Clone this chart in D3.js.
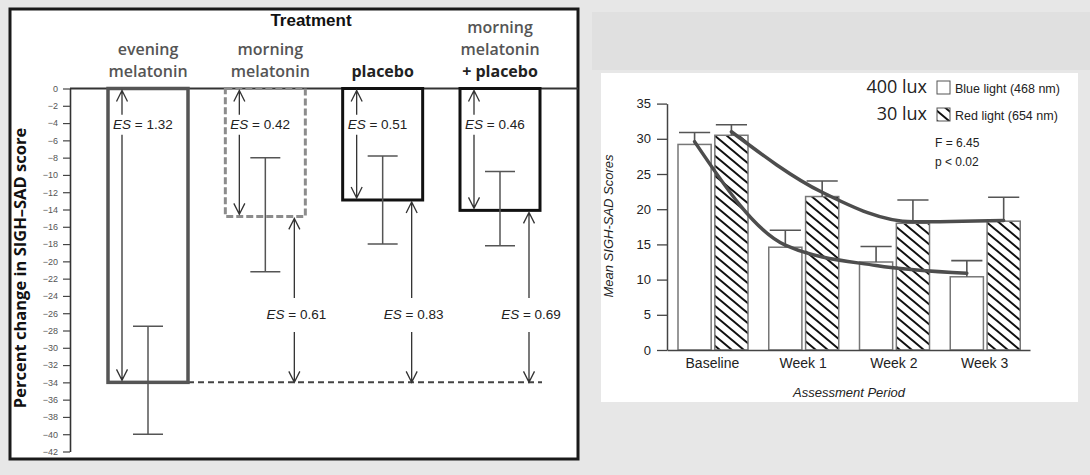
<!DOCTYPE html>
<html>
<head>
<meta charset="utf-8">
<script src="https://cdn.jsdelivr.net/npm/d3@7"></script>
<style>
	html, body { margin: 0; padding: 0; background: #e7e7e7; }
	svg { display: block; }
</style>
</head>
<body>
<svg id="chart" width="1090" height="475"></svg>
<script>
// left panel: percent change in SIGH-SAD score per treatment
var treatments = ['evening melatonin', 'morning melatonin', 'placebo', 'morning melatonin + placebo'];
var treatmentLines = [['evening', 'melatonin'], ['morning', 'melatonin'], ['placebo'], ['morning', 'melatonin', '+ placebo']];
var meanChange = [-34, -14.8, -12.9, -14.1];
var errTop = [-27.5, -8, -7.8, -9.6];
var errBottom = [-40, -21.2, -18, -18.2];
var esWithin = ['1.32', '0.42', '0.51', '0.46'];
var esVsEvening = [null, '0.61', '0.83', '0.69'];
var referenceLevel = -34;
var leftTicks = [0, -2, -4, -6, -8, -10, -12, -14, -16, -18, -20, -22, -24, -26, -28, -30, -32, -34, -36, -38, -40, -42];

// right panel: mean SIGH-SAD scores by assessment period
var periods = ['Baseline', 'Week 1', 'Week 2', 'Week 3'];
var lights = ['blue', 'red'];
var blueMean = [29.2, 14.6, 12.5, 10.4];
var blueErr = [30.9, 17.0, 14.7, 12.7];
var redMean = [30.5, 21.8, 18.0, 18.3];
var redErr = [32.0, 24.0, 21.3, 21.7];
var blueFit = [29.6, 14.9, 12.0, 10.9];
var redFit = [31.0, 22.4, 18.2, 18.4];
var rightTicks = [0, 5, 10, 15, 20, 25, 30, 35];

var svg = d3.select('#chart');

svg.append('rect').attr('width', 1090).attr('height', 475).attr('fill', '#e7e7e7');
svg.append('rect').attr('x', 592).attr('y', 12).attr('width', 498).attr('height', 58).attr('fill', '#e0e0e0');

var defs = svg.append('defs');
var hatch = defs.append('pattern')
	.attr('id', 'hatch')
	.attr('patternUnits', 'userSpaceOnUse')
	.attr('width', 12)
	.attr('height', 10);
hatch.append('path')
	.attr('d', 'M-12,-10L24,20M-12,0L12,20M0,-10L24,10')
	.attr('stroke', '#111')
	.attr('stroke-width', 2);

/* ---------------- left panel ---------------- */
var left = svg.append('g');
left.append('rect')
	.attr('x', 10).attr('y', 9)
	.attr('width', 568).attr('height', 450)
	.attr('fill', '#fff')
	.attr('stroke', '#1a1a1a')
	.attr('stroke-width', 3);

var yL = d3.scaleLinear().domain([0, -42]).range([88.5, 451.5]);
var xL = d3.scalePoint().domain(treatments).range([148, 500]);
var barW = 80;
var barStroke = ['#555', '#8c8c8c', '#111', '#111'];
var barWidth = [3.5, 3, 3, 3];
var barDash = [null, '7,3', null, null];

left.append('g')
	.attr('transform', 'translate(70,0)')
	.call(d3.axisLeft(yL).tickValues(leftTicks).tickSize(7).tickSizeOuter(0).tickPadding(5))
	.call(function(g) {
		g.select('.domain').attr('stroke', '#333').attr('stroke-width', 1.6);
		g.selectAll('.tick line').attr('stroke', '#444').attr('stroke-width', 1.2);
		g.selectAll('.tick text')
			.attr('fill', '#555')
			.style('font-family', '"Liberation Sans", Arial, sans-serif')
			.style('font-size', '9px');
	});

// zero line
left.append('line')
	.attr('x1', 70).attr('x2', 578)
	.attr('y1', yL(0)).attr('y2', yL(0))
	.attr('stroke', '#333')
	.attr('stroke-width', 2);

left.append('text')
	.attr('x', 311).attr('y', 26)
	.attr('text-anchor', 'middle')
	.style('font', 'bold 17px "Liberation Sans", Arial, sans-serif')
	.attr('fill', '#111')
	.text('Treatment');

// category labels
treatments.forEach(function(t, i) {
	var lines = treatmentLines[i];
	lines.forEach(function(line, j) {
		left.append('text')
			.attr('x', xL(t) + (i == 1 ? 5 : 0))
			.attr('y', 77 - (lines.length - 1 - j) * 22)
			.attr('text-anchor', 'middle')
			.style('font-family', '"Open Sans", sans-serif')
			.style('font-size', '16px')
			.style('font-weight', line.indexOf('placebo') >= 0 ? 700 : 600)
			.attr('fill', line.indexOf('placebo') >= 0 ? '#222' : '#555')
			.text(line);
	});
});

// y label
left.append('text')
	.attr('transform', 'translate(26,' + 268 + ') rotate(-90)')
	.attr('text-anchor', 'middle')
	.style('font-family', '"Open Sans", sans-serif')
	.style('font-size', '16.5px')
	.style('font-weight', 700)
	.attr('fill', '#111')
	.text('Percent change in SIGH\u2013SAD score');

// reference dashed line
left.append('line')
	.attr('x1', xL(treatments[0]) + barW / 2).attr('x2', 542)
	.attr('y1', yL(referenceLevel)).attr('y2', yL(referenceLevel))
	.attr('stroke', '#444')
	.attr('stroke-width', 2)
	.attr('stroke-dasharray', '6,4');

// bars
left.selectAll('rect.bar')
	.data(treatments)
	.join('rect')
	.attr('class', 'bar')
	.attr('x', function(d) { return xL(d) - barW / 2; })
	.attr('y', yL(0))
	.attr('width', barW)
	.attr('height', function(d, i) { return yL(meanChange[i]) - yL(0); })
	.attr('fill', 'none')
	.attr('stroke', function(d, i) { return barStroke[i]; })
	.attr('stroke-width', function(d, i) { return barWidth[i]; })
	.attr('stroke-dasharray', function(d, i) { return barDash[i]; });

// error bars
treatments.forEach(function(t, i) {
	var x = xL(t);
	var p = d3.path();
	p.moveTo(x, yL(errTop[i])); p.lineTo(x, yL(errBottom[i]));
	p.moveTo(x - 15, yL(errTop[i])); p.lineTo(x + 15, yL(errTop[i]));
	p.moveTo(x - 15, yL(errBottom[i])); p.lineTo(x + 15, yL(errBottom[i]));
	left.append('path')
		.attr('d', p.toString())
		.attr('fill', 'none')
		.attr('stroke', '#555')
		.attr('stroke-width', 1.5);
});

function drawArrow(g, x, yA, yB, gapY, gapHalf) {
	var p = d3.path();
	p.moveTo(x, yA); p.lineTo(x, gapY - gapHalf);
	p.moveTo(x, gapY + gapHalf); p.lineTo(x, yB);
	p.moveTo(x - 5.5, yA + 11); p.lineTo(x, yA); p.lineTo(x + 5.5, yA + 11);
	p.moveTo(x - 5.5, yB - 11); p.lineTo(x, yB); p.lineTo(x + 5.5, yB - 11);
	g.append('path')
		.attr('d', p.toString())
		.attr('fill', 'none')
		.attr('stroke', '#333')
		.attr('stroke-width', 1.3);
}

function esLabel(g, x, y, value, anchor) {
	var t = g.append('text')
		.attr('x', x).attr('y', y)
		.attr('text-anchor', anchor)
		.style('font-family', '"Liberation Sans", Arial, sans-serif')
		.style('font-size', '13.5px')
		.attr('fill', '#222');
	t.append('tspan').style('font-style', 'italic').text('ES');
	t.append('tspan').text(' = ' + value);
}

treatments.forEach(function(t, i) {
	var cx = xL(t);
	var innerX = cx - 26;
	var labelY = yL(-4.2);
	drawArrow(left, innerX, yL(0) + 2, yL(meanChange[i]) - 2, labelY, 10);
	esLabel(left, cx - barW / 2 + 5, labelY + 4.5, esWithin[i], 'start');

	if (esVsEvening[i]) {
		var outerX = cx + 29;
		var outerY = yL(-26.2);
		drawArrow(left, outerX, yL(meanChange[i]) + 2, yL(referenceLevel), outerY, 17);
		esLabel(left, outerX + 2, outerY + 4.5, esVsEvening[i], 'middle');
	}
});

/* ---------------- right panel ---------------- */
var right = svg.append('g');
right.append('rect')
	.attr('x', 601).attr('y', 73)
	.attr('width', 477).attr('height', 329)
	.attr('fill', '#fff');

var yR = d3.scaleLinear().domain([0, 35]).range([350, 103.6]);
var x0 = d3.scaleBand().domain(periods).range([667, 1030]);
var x1 = d3.scaleBand().domain(lights).range([11, 81]).paddingInner(0.1);

var series = {
	blue: { mean: blueMean, err: blueErr, fit: blueFit, fill: '#fff' },
	red: { mean: redMean, err: redErr, fit: redFit, fill: 'url(#hatch)' }
};

lights.forEach(function(l) {
	var s = series[l];
	right.selectAll('rect.bar-' + l)
		.data(periods)
		.join('rect')
		.attr('class', 'bar-' + l)
		.attr('x', function(d) { return x0(d) + x1(l); })
		.attr('y', function(d, i) { return yR(s.mean[i]); })
		.attr('width', x1.bandwidth())
		.attr('height', function(d, i) { return yR(0) - yR(s.mean[i]); })
		.attr('fill', s.fill)
		.attr('stroke', '#777')
		.attr('stroke-width', 1.5);

	periods.forEach(function(d, i) {
		var cx = x0(d) + x1(l) + x1.bandwidth() / 2;
		var p = d3.path();
		p.moveTo(cx, yR(s.mean[i])); p.lineTo(cx, yR(s.err[i]));
		p.moveTo(cx - x1.bandwidth() / 2 + 1, yR(s.err[i])); p.lineTo(cx + x1.bandwidth() / 2 - 1, yR(s.err[i]));
		right.append('path')
			.attr('d', p.toString())
			.attr('fill', 'none')
			.attr('stroke', '#555')
			.attr('stroke-width', 1.6);
	});
});

var fitLine = d3.line().curve(d3.curveMonotoneX);
lights.forEach(function(l) {
	var s = series[l];
	var pts = periods.map(function(d, i) {
		return [x0(d) + x1(l) + x1.bandwidth() / 2, yR(s.fit[i])];
	});
	right.append('path')
		.attr('d', fitLine(pts))
		.attr('fill', 'none')
		.attr('stroke', '#4d4d4d')
		.attr('stroke-width', 3.5)
		.attr('stroke-linecap', 'round');
});

right.append('g')
	.attr('transform', 'translate(667,0)')
	.call(d3.axisLeft(yR).tickValues(rightTicks).tickSize(10).tickSizeOuter(0).tickPadding(6))
	.call(function(g) {
		g.select('.domain').attr('stroke', '#444').attr('stroke-width', 1.5);
		g.selectAll('.tick line').attr('stroke', '#444').attr('stroke-width', 1.3);
		g.selectAll('.tick text')
			.attr('fill', '#222')
			.style('font-family', '"Liberation Sans", Arial, sans-serif')
			.style('font-size', '13px');
	});

right.append('g')
	.attr('transform', 'translate(0,350)')
	.call(d3.axisBottom(x0).tickSize(0).tickSizeOuter(0).tickPadding(8))
	.call(function(g) {
		g.select('.domain').attr('stroke', '#444').attr('stroke-width', 1.5);
		g.selectAll('.tick text')
			.attr('fill', '#222')
			.style('font-family', '"Liberation Sans", Arial, sans-serif')
			.style('font-size', '14px');
	});

right.append('text')
	.attr('x', 849).attr('y', 397)
	.attr('text-anchor', 'middle')
	.style('font', 'italic 13px "Liberation Sans", Arial, sans-serif')
	.attr('fill', '#222')
	.text('Assessment Period');

right.append('text')
	.attr('transform', 'translate(613,226) rotate(-90)')
	.attr('text-anchor', 'middle')
	.style('font', 'italic 13px "Liberation Sans", Arial, sans-serif')
	.attr('fill', '#222')
	.text('Mean SIGH-SAD Scores');

// legend
var legendRows = [
	{ lux: '400 lux', label: 'Blue light (468 nm)', fill: '#fff', y: 93 },
	{ lux: '30 lux', label: 'Red light (654 nm)', fill: 'url(#hatch)', y: 120 }
];
legendRows.forEach(function(r) {
	right.append('text')
		.attr('x', 927).attr('y', r.y)
		.attr('text-anchor', 'end')
		.style('font-family', '"Open Sans", sans-serif')
		.style('font-size', '18px')
		.attr('fill', '#222')
		.text(r.lux);
	right.append('rect')
		.attr('x', 937).attr('y', r.y - 12)
		.attr('width', 13).attr('height', 13)
		.attr('fill', r.fill)
		.attr('stroke', '#555')
		.attr('stroke-width', 1);
	right.append('text')
		.attr('x', 955).attr('y', r.y)
		.style('font-family', '"Liberation Sans", Arial, sans-serif')
		.style('font-size', '12.5px')
		.attr('fill', '#222')
		.text(r.label);
});

right.append('text')
	.attr('x', 935).attr('y', 147)
	.style('font-family', '"Liberation Sans", Arial, sans-serif')
	.style('font-size', '12px')
	.attr('fill', '#222')
	.text('F = 6.45');
right.append('text')
	.attr('x', 935).attr('y', 166)
	.style('font-family', '"Liberation Sans", Arial, sans-serif')
	.style('font-size', '12px')
	.attr('fill', '#222')
	.text('p < 0.02');
</script>
</body>
</html>
